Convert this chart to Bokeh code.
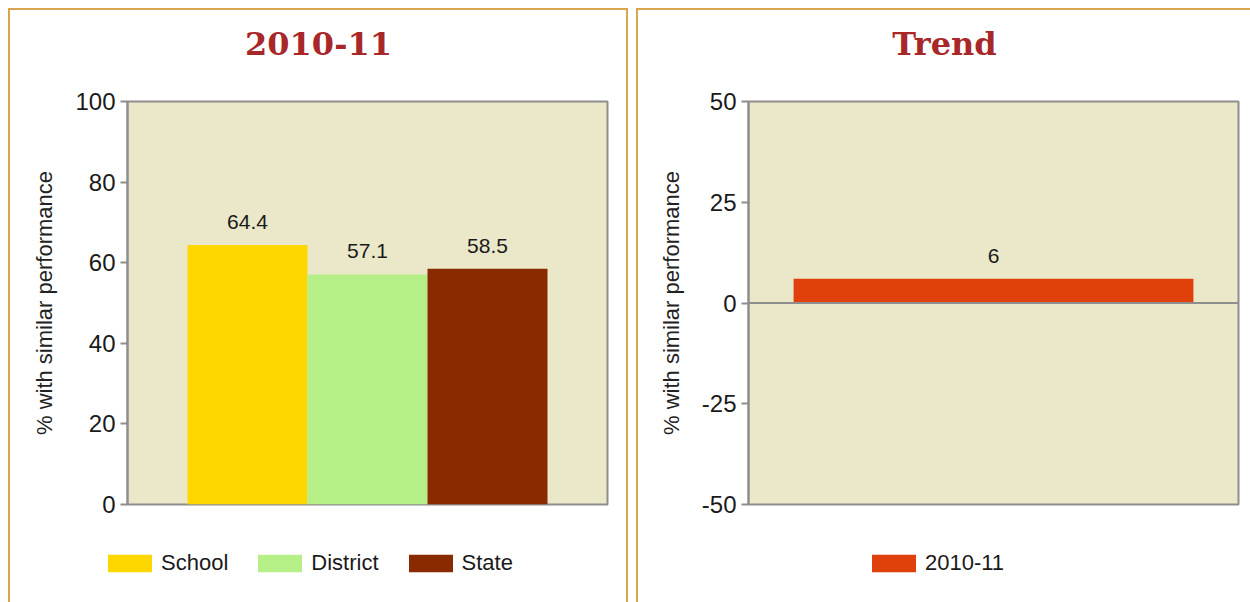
from bokeh.plotting import figure
from bokeh.models import (ColumnDataSource, LabelSet, Label, Span, Range1d, FixedTicker,
                          PrintfTickFormatter, Legend, LegendItem)
from bokeh.core.properties import value
from bokeh.layouts import row, column
from bokeh.embed import file_html
from bokeh.resources import INLINE

# ---- data ----
categories = ["School", "District", "State"]
values = [64.4, 57.1, 58.5]
bar_colors = ["#FFD700", "#B6EE88", "#892A00"]

trend_labels = ["2010-11"]
trend_values = [6]
trend_colors = ["#E0400C"]

left_ticks = [0, 20, 40, 60, 80, 100]
right_ticks = [-50, -25, 0, 25, 50]

left_title = "2010-11"
right_title = "Trend"
y_label = "% with similar performance"

# ---- style ----
BG = "#EAE8C9"
FRAME = "#8E8E8E"
TITLE_COLOR = "#A8282A"
PANEL_BORDER = "#D6A64C"
SANS = "Liberation Sans"
TXT = "#1a1a1a"

TITLE_H = 71
MAIN_H = 439
LEG_H = 82


def blank(width, height, xr=(0, 1), yr=(0, 1)):
    f = figure(width=width, height=height, output_backend="svg", toolbar_location=None,
               title=None, x_axis_location=None, y_axis_location=None,
               x_range=Range1d(*xr), y_range=Range1d(*yr),
               min_border=0, min_border_left=0, min_border_right=0,
               min_border_top=0, min_border_bottom=0, frame_align=False)
    f.outline_line_color = None
    f.xgrid.visible = False
    f.ygrid.visible = False
    f.background_fill_color = "white"
    f.border_fill_color = "white"
    return f


def title_fig(width, text):
    f = blank(width, TITLE_H, yr=(0, TITLE_H))
    f.add_layout(Label(x=0.5, y=TITLE_H - 33, text=text, text_align="center",
                       text_baseline="middle", text_font="DejaVu Serif",
                       text_font_style="bold", text_font_size="32px",
                       text_color=TITLE_COLOR))
    return f


def legend_fig(width, src, labels, x_loc):
    f = blank(width, LEG_H)
    r = f.vbar(x="x", top="v", bottom=0, width=1, fill_color="c", line_color=None,
               source=src)
    r.visible = False
    items = [LegendItem(label=lab, renderers=[r], index=i)
             for i, lab in enumerate(labels)]
    lg = Legend(items=items, location=(x_loc, 26), orientation="horizontal",
                background_fill_alpha=0, border_line_color=None,
                padding=0, margin=0, glyph_width=55, glyph_height=22,
                label_standoff=4, spacing=24, label_text_font=SANS,
                label_text_font_size="22px", label_text_color=TXT)
    f.add_layout(lg, "center")
    return f


def style(p, ticks):
    p.background_fill_color = BG
    p.border_fill_color = "white"
    p.outline_line_color = FRAME
    p.outline_line_width = 2
    p.xgrid.visible = False
    p.ygrid.visible = False
    ax = p.yaxis[0]
    ax.ticker = FixedTicker(ticks=ticks)
    ax.formatter = PrintfTickFormatter(format="%d")
    ax.axis_line_color = FRAME
    ax.axis_line_width = 2
    ax.major_tick_line_color = FRAME
    ax.major_tick_line_width = 2
    ax.major_tick_out = 7
    ax.major_tick_in = 0
    ax.minor_tick_line_color = None
    ax.major_label_text_font = SANS
    ax.major_label_text_font_size = "24px"
    ax.major_label_text_color = TXT
    ax.major_label_standoff = 5
    ax.axis_label = y_label
    ax.axis_label_text_font = SANS
    ax.axis_label_text_font_size = "22px"
    ax.axis_label_text_font_style = "normal"
    ax.axis_label_text_color = "#222222"
    ax.axis_label_standoff = 15


def main_fig(width, ticks, xr, left, right):
    p = figure(width=width, height=MAIN_H, output_backend="svg", toolbar_location=None,
               title=None, x_axis_location=None, x_range=Range1d(*xr),
               y_range=Range1d(ticks[0], ticks[-1]),
               min_border_left=left, min_border_right=right, min_border_top=20,
               min_border_bottom=16, frame_align=False)
    style(p, ticks)
    return p


BORDER = f"2px solid {PANEL_BORDER}"

# ---- left chart ----
xs = list(range(1, len(categories) + 1))
src = ColumnDataSource(dict(x=xs, v=values, c=bar_colors,
                            lbl=[f"{v:.1f}" for v in values]))
p1 = main_fig(616, left_ticks, (0, len(categories) + 1), 117, 19)
p1.vbar(x="x", top="v", bottom=0, width=1, fill_color="c", line_color=None, source=src)
p1.add_layout(LabelSet(x="x", y="v", text="lbl", source=src, text_align="center",
                       text_baseline="bottom", y_offset=16, text_font=value(SANS),
                       text_font_size="21px", text_color=TXT))
col1 = column(title_fig(616, left_title), p1, legend_fig(616, src, categories, 92),
              spacing=0, styles={"border-top": BORDER, "border-left": BORDER,
                                 "border-right": BORDER})

# ---- right chart ----
src2 = ColumnDataSource(dict(x=[0.5], v=trend_values, c=trend_colors,
                             lbl=[str(v) for v in trend_values]))
p2 = main_fig(612, right_ticks, (0, 1), 110, 12)
p2.vbar(x="x", top="v", bottom=0, width=0.816, fill_color="c", line_color=None,
        source=src2)
p2.add_layout(Span(location=0, dimension="width", line_color=FRAME, line_width=2))
p2.add_layout(LabelSet(x="x", y="v", text="lbl", source=src2, text_align="center",
                       text_baseline="bottom", y_offset=16, text_font=value(SANS),
                       text_font_size="21px", text_color=TXT))
col2 = column(title_fig(612, right_title), p2, legend_fig(612, src2, trend_labels, 228),
              spacing=0, styles={"border-top": BORDER, "border-left": BORDER})

layout = row(col1, col2, spacing=8, margin=(8, 0, 0, 8))
open("out.html", "w").write(file_html(layout, INLINE))
